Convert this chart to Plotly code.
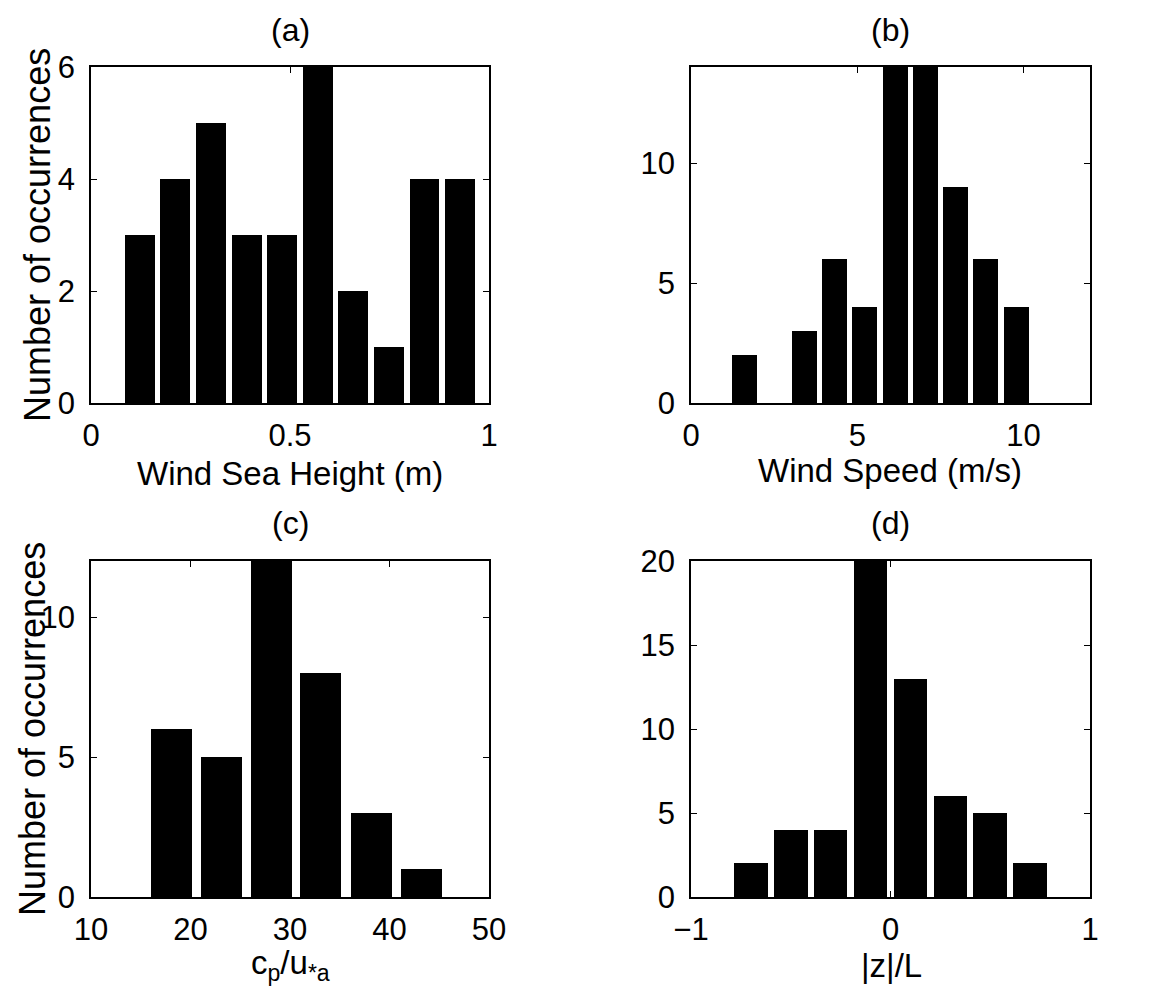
import plotly.graph_objects as go

# ---------------- data ----------------
a_centers = [0.123, 0.212, 0.302, 0.391, 0.480, 0.570, 0.659, 0.748, 0.838, 0.927]
a_counts = [3, 4, 5, 3, 3, 6, 2, 1, 4, 4]

b_centers = [1.60, 2.51, 3.41, 4.32, 5.23, 6.14, 7.05, 7.96, 8.87, 9.78]
b_counts = [2, 0, 3, 6, 4, 14, 14, 9, 6, 4]

c_centers = [18.1, 23.1, 28.1, 33.1, 38.2, 43.2]
c_counts = [6, 5, 12, 8, 3, 1]

d_centers = [-0.70, -0.50, -0.30, -0.10, 0.10, 0.30, 0.50, 0.70]
d_counts = [2, 4, 4, 20, 13, 6, 5, 2]

titles = ["(a)", "(b)", "(c)", "(d)"]
x_titles = ["Wind Sea Height (m)", "Wind Speed (m/s)",
            "c<sub>p</sub>/u<sub>*a</sub>", "|z|/L"]
y_title = "Number of occurrences"

PAGE_W, PAGE_H = 1173, 996
OFF = 8  # default body margin of the html page
W, H = PAGE_W - 2 * OFF, PAGE_H - 2 * OFF
FONT = "Liberation Sans, Arial, Helvetica, sans-serif"

def px_x(v):
    return (v - OFF) / W

def px_y(v):
    return 1 - (v - OFF) / H

fig = go.Figure()

panels = [
    (a_centers, a_counts, 0.0893 * 0.84, "x", "y"),
    (b_centers, b_counts, 0.91 * 0.83, "x2", "y2"),
    (c_centers, c_counts, 5.02 * 0.82, "x3", "y3"),
    (d_centers, d_counts, 0.2 * 0.84, "x4", "y4"),
]
for xs, ys, w, xa, ya in panels:
    fig.add_trace(go.Bar(
        x=xs, y=ys, width=w, xaxis=xa, yaxis=ya,
        marker=dict(color="black", line=dict(width=0)),
        showlegend=False, hoverinfo="x+y",
    ))

# pixel boxes of the four axes (page pixels)
left_dom = [px_x(91), px_x(489)]
right_dom = [px_x(691), px_x(1090)]
top_dom = [px_y(403), px_y(67)]
bot_dom = [px_y(897), px_y(561)]

common = dict(showline=True, linecolor="black", linewidth=1.5, mirror="ticks",
              ticks="inside", ticklen=6, tickwidth=1.2, tickcolor="black",
              showgrid=False, zeroline=False, automargin=False,
              tickfont=dict(family=FONT, size=31, color="black"))

def xax(domain, rng, ticks, anchor):
    return dict(domain=domain, range=rng, tickvals=ticks, anchor=anchor,
                ticklabelstandoff=4, **common)

def yax(domain, rng, ticks, anchor):
    return dict(domain=domain, range=rng, tickvals=ticks, anchor=anchor,
                ticklabelstandoff=8, **common)

fig.update_layout(
    width=W, height=H,
    margin=dict(l=0, r=0, t=0, b=0, autoexpand=False),
    paper_bgcolor="white", plot_bgcolor="white",
    bargap=0,
    xaxis=xax(left_dom, [0, 1], [0, 0.5, 1], "y"),
    yaxis=yax(top_dom, [0, 6], [0, 2, 4, 6], "x"),
    xaxis2=xax(right_dom, [0, 12], [0, 5, 10], "y2"),
    yaxis2=yax(top_dom, [0, 14], [0, 5, 10], "x2"),
    xaxis3=xax(left_dom, [10, 50], [10, 20, 30, 40, 50], "y3"),
    yaxis3=yax(bot_dom, [0, 12], [0, 5, 10], "x3"),
    xaxis4=xax(right_dom, [-1, 1], [-1, 0, 1], "y4"),
    yaxis4=yax(bot_dom, [0, 20], [0, 5, 10, 15, 20], "x4"),
    font=dict(family=FONT, color="black"),
)
fig.update_layout(xaxis=dict(tickformat=".1~f"))

ann = []
# panel titles
for t, cx, cy in zip(titles, [290, 890, 290, 890], [30, 30, 523, 523]):
    ann.append(dict(text=t, x=px_x(cx), y=px_y(cy), xref="paper", yref="paper",
                    xanchor="center", yanchor="middle", showarrow=False,
                    font=dict(family=FONT, size=32, color="black")))
# x titles
for t, cx, cy in zip(x_titles, [290, 890, 290, 891], [473, 470, 965, 965]):
    ann.append(dict(text=t, x=px_x(cx), y=px_y(cy), xref="paper", yref="paper",
                    xanchor="center", yanchor="middle", showarrow=False,
                    font=dict(family=FONT, size=33, color="black")))
# y titles
for cx, cy in [(37, 235), (32, 729)]:
    ann.append(dict(text=y_title, x=px_x(cx), y=px_y(cy), xref="paper", yref="paper",
                    xanchor="center", yanchor="middle", textangle=-90, showarrow=False,
                    font=dict(family=FONT, size=36, color="black")))
fig.update_layout(annotations=ann)

fig.write_html("out.html")
